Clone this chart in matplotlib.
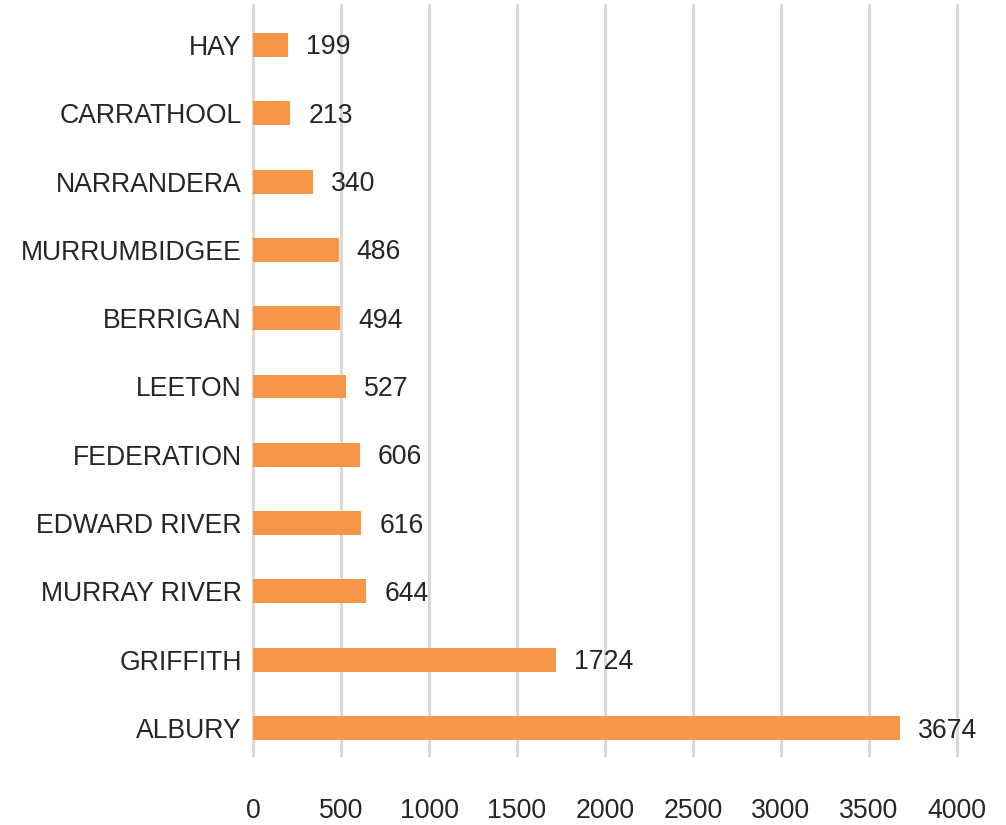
import matplotlib
matplotlib.use("Agg")
import matplotlib.pyplot as plt

categories = ["ALBURY", "GRIFFITH", "MURRAY RIVER", "EDWARD RIVER", "FEDERATION",
              "LEETON", "BERRIGAN", "MURRUMBIDGEE", "NARRANDERA", "CARRATHOOL", "HAY"]
values = [3674, 1724, 644, 616, 606, 527, 494, 486, 340, 213, 199]
xticks = [0, 500, 1000, 1500, 2000, 2500, 3000, 3500, 4000]

plt.rcParams['font.family'] = ['Liberation Sans', 'DejaVu Sans']
txt = '#262626'
fs = 19.2

fig = plt.figure(figsize=(10.06, 8.25), dpi=100)
W, H = 1006, 825
ax = fig.add_axes([253 / W, 1 - 755 / H, (957 - 253) / W, (755 - 5) / H])

pos = list(range(len(categories)))
ax.barh(pos, values, height=0.35, color='#F79646', zorder=3)
for p, v in zip(pos, values):
    ax.annotate(str(v), (v, p), xytext=(18 * 72 / 100, -2.5 * 72 / 100), textcoords='offset points',
                va='center', ha='left', fontsize=fs, color=txt)

ax.set_xlim(0, 4000)
ax.set_ylim(-0.395, 10.585)
ax.set_yticks(pos)
ax.set_yticklabels(categories, fontsize=fs, color=txt, va='center_baseline')
ax.set_xticks(xticks)
ax.set_xticklabels([str(t) for t in xticks], fontsize=fs, color=txt)
ax.tick_params(axis='y', length=0, pad=8)
ax.tick_params(axis='x', length=0, pad=31)
ax.grid(axis='x', color='#d9d9d9', linewidth=2.2, zorder=0)
for gl in ax.get_xgridlines():
    gl.set_clip_on(False)
ax.set_axisbelow(True)
for s in ax.spines.values():
    s.set_visible(False)

fig.savefig('out.png', dpi=100)
